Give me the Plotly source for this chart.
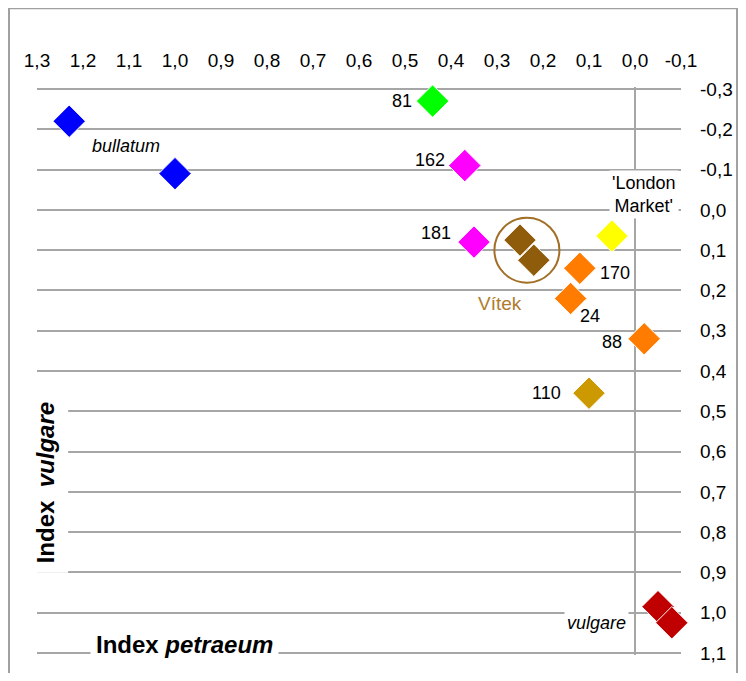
import plotly.graph_objects as go

# index petraeum (x) and index vulgare (y) for each sample
names = ['bullatum', 'bullatum', '81', '162', '181', 'Vítek', 'Vítek',
         "'London Market'", '170', '24', '88', '110', 'vulgare', 'vulgare']
petraeum = [1.23, 1.00, 0.44, 0.37, 0.35, 0.25, 0.22,
            0.05, 0.12, 0.14, -0.02, 0.10, -0.05, -0.08]
vulgare = [-0.22, -0.09, -0.27, -0.11, 0.08, 0.075, 0.125,
           0.065, 0.145, 0.22, 0.32, 0.455, 0.985, 1.025]
colors = ['#0000ff', '#0000ff', '#00ff00', '#ff00ff', '#ff00ff', '#8f5c0b', '#8f5c0b',
          '#ffff00', '#ff7c00', '#ff7c00', '#ff7c00', '#cc9900', '#c00000', '#c00000']

x_ticks = [1.3, 1.2, 1.1, 1.0, 0.9, 0.8, 0.7, 0.6, 0.5, 0.4, 0.3, 0.2, 0.1, 0.0, -0.1]
x_tick_labels = ['1,3', '1,2', '1,1', '1,0', '0,9', '0,8', '0,7', '0,6', '0,5',
                 '0,4', '0,3', '0,2', '0,1', '0,0', '-0,1']
y_ticks = [-0.3, -0.2, -0.1, 0.0, 0.1, 0.2, 0.3, 0.4, 0.5, 0.6, 0.7, 0.8, 0.9, 1.0, 1.1]
y_tick_labels = ['-0,3', '-0,2', '-0,1', '0,0', '0,1', '0,2', '0,3', '0,4', '0,5',
                 '0,6', '0,7', '0,8', '0,9', '1,0', '1,1']

x_range = [1.3, -0.1]
# a little wider than the ticks so the end grid lines are still drawn
y_range = [1.105, -0.305]

FONT = 'Liberation Sans, Arial, sans-serif'
GRID = '#a6a6a6'

fig = go.Figure()

# circle round the two Vitek samples
vit = [i for i, n in enumerate(names) if n == 'Vítek']
vx = sum(petraeum[i] for i in vit) / len(vit)
vy = sum(vulgare[i] for i in vit) / len(vit)
fig.add_trace(go.Scatter(x=[vx], y=[vy], mode='markers', showlegend=False, hoverinfo='skip',
                         cliponaxis=False,
                         marker=dict(symbol='circle-open', size=65, color='#a26f26',
                                     line=dict(color='#a26f26', width=2))))

fig.add_trace(go.Scatter(x=petraeum, y=vulgare, mode='markers', showlegend=False,
                         text=names, cliponaxis=False,
                         marker=dict(symbol='diamond', size=25, color=colors,
                                     line=dict(color='white', width=1))))

# labels: (index of point, xshift, yshift, xanchor, italic)
labels = [
    (0, 57, -25, 'center', True),
    (2, -18, 0, 'right', False),
    (3, -17, 6, 'right', False),
    (4, -20, 9, 'right', False),
    (7, 32, 42, 'center', False),
    (8, 17, -5, 'left', False),
    (9, 6, -18, 'left', False),
    (10, -19, -3, 'right', False),
    (11, -25, 0, 'right', False),
    (12, -29, -16, 'right', True),
]
for i, dx, dy, anc, it in labels:
    txt = names[i].replace(' ', '<br>')
    if it:
        txt = '<i>' + txt + '</i>'
    fig.add_annotation(x=petraeum[i], y=vulgare[i], text=txt, showarrow=False,
                       xshift=dx, yshift=dy, xanchor=anc, yanchor='middle',
                       font=dict(family=FONT, size=18, color='black'),
                       bgcolor='white' if i in (7, 12) else None, borderpad=2)

fig.add_annotation(x=vx, y=vy, text='Vítek', showarrow=False, xshift=-27, yshift=-53,
                   font=dict(family=FONT, size=19, color='#b07c2c'))

# axis titles
fig.add_annotation(xref='paper', yref='paper', x=0.0124, y=0.304,
                   xanchor='center', yanchor='middle',
                   text='<b>Index  <i>vulgare</i></b>', textangle=-90, showarrow=False,
                   font=dict(family=FONT, size=24, color='black'),
                   bgcolor='white', borderpad=9)
fig.add_annotation(xref='paper', yref='paper', x=0.2298, y=0.019,
                   xanchor='center', yanchor='middle',
                   text='<b>Index <i>petraeum</i></b>', showarrow=False,
                   font=dict(family=FONT, size=24, color='black'),
                   bgcolor='white', borderpad=5)

# outer frame
fig.add_shape(type='rect', xref='paper', yref='paper',
              x0=-0.0435, x1=1.087, y0=-0.08, y1=1.1385,
              line=dict(color='#a0a0a0', width=2), layer='above')

fig.update_layout(
    width=730, height=665, autosize=False,
    margin=dict(l=29, r=57, t=79, b=18),
    plot_bgcolor='white', paper_bgcolor='white',
    font=dict(family=FONT, size=19, color='black'),
    xaxis=dict(range=x_range, tickvals=x_ticks, ticktext=x_tick_labels, side='top',
               showgrid=False, zeroline=True, zerolinecolor=GRID, zerolinewidth=1.5,
               showline=False, ticks='', ticklabelstandoff=15, automargin=False,
               tickfont=dict(size=19)),
    xaxis2=dict(range=x_range, tickvals=x_ticks, overlaying='x', anchor='free',
                position=1.105 / 1.41, side='top', showgrid=False, zeroline=False,
                showline=True, linecolor=GRID, linewidth=1.5, automargin=False,
                ticks='outside', ticklen=7, tickcolor=GRID, tickwidth=1.5,
                showticklabels=False),
    yaxis=dict(range=y_range, tickvals=y_ticks, ticktext=y_tick_labels, side='right',
               showgrid=True, gridcolor=GRID, gridwidth=1.5, automargin=False,
               zeroline=False, showline=False, ticks='', ticklabelstandoff=18,
               tickfont=dict(size=19)),
)

fig.write_html("out.html")
